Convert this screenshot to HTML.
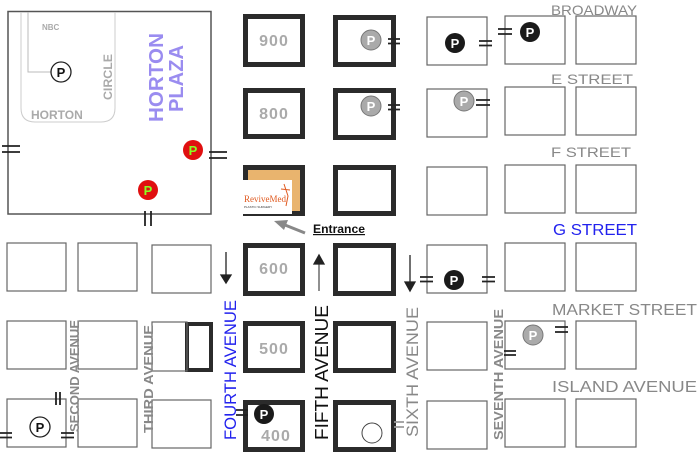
<!DOCTYPE html>
<html><head><meta charset="utf-8"><style>
html,body{margin:0;padding:0;background:#fff;width:700px;height:453px;overflow:hidden}
svg{display:block}
text{font-family:"Liberation Sans",sans-serif}
</style></head><body>
<svg width="700" height="453" viewBox="0 0 700 453" xmlns="http://www.w3.org/2000/svg">
<!-- Horton Plaza -->
<rect x="8" y="11.5" width="203" height="202.5" fill="none" stroke="#555" stroke-width="1.5"/>
<path d="M21 12 V108 Q21 122 35 122 H101 Q115 122 115 108 V12" fill="none" stroke="#ccc" stroke-width="1"/>
<path d="M28 12 V72 H52" fill="none" stroke="#bbb" stroke-width="1"/>
<text x="42" y="30" font-size="8" font-weight="bold" fill="#aaa">NBC</text>
<text x="31" y="119" font-size="12" font-weight="bold" fill="#aaa">HORTON</text>
<text transform="translate(112,100) rotate(-90)" font-size="12" font-weight="bold" fill="#aaa" textLength="46" lengthAdjust="spacingAndGlyphs">CIRCLE</text>
<text transform="translate(163,122) rotate(-90)" font-size="20" font-weight="bold" fill="#9a8cf0" textLength="89" lengthAdjust="spacingAndGlyphs">HORTON</text>
<text transform="translate(183,112) rotate(-90)" font-size="20" font-weight="bold" fill="#9a8cf0" textLength="67" lengthAdjust="spacingAndGlyphs">PLAZA</text>

<g fill="none" stroke="#2b2b2b" stroke-width="5">
<rect x="245.5" y="16.5" width="57" height="48"/>
<rect x="245.5" y="90.5" width="57" height="46"/>
<rect x="245.5" y="167.5" width="57" height="46"/>
<rect x="335.5" y="17.5" width="58" height="47"/>
<rect x="335.5" y="90.5" width="58" height="47"/>
<rect x="335.5" y="167.5" width="58" height="46"/>
<rect x="245.5" y="245.5" width="57" height="48"/>
<rect x="335.5" y="245.5" width="58" height="48"/>
<rect x="245.5" y="323.5" width="57" height="47"/>
<rect x="335.5" y="323.5" width="58" height="47"/>
<rect x="245.5" y="402.5" width="57" height="47"/>
<rect x="335.5" y="402.5" width="58" height="47"/>
<rect x="187" y="324" width="24" height="46" stroke-width="4"/>
</g>
<g font-size="16" font-weight="bold" fill="#aaa" text-anchor="middle" letter-spacing="1">
<text x="274" y="46">900</text><text x="274" y="119">800</text>
<text x="274" y="274">600</text><text x="274" y="354">500</text><text x="276" y="441">400</text>
</g>
<!-- ReviveMed logo -->
<rect x="248" y="170" width="52" height="41" fill="#e9b46e"/>
<rect x="243" y="180" width="49" height="34" fill="#fff"/>
<text x="244" y="202" font-size="9" style="font-family:'Liberation Serif',serif" fill="#e05a20">ReviveMed</text>
<text x="244" y="208" font-size="3" fill="#333">PLASTIC SURGERY</text>
<path d="M284 184 L288 196 L286 206 M281 189 L290 190" stroke="#e05a20" fill="none"/>
<!-- entrance -->
<path d="M305 233 L285 225" stroke="#888" stroke-width="3"/>
<path d="M274 221 L288 220 L284 230 Z" fill="#888"/>
<text x="313" y="233" font-size="12" font-weight="bold" fill="#111" textLength="52" lengthAdjust="spacingAndGlyphs" text-decoration="underline">Entrance</text>

<g fill="none" stroke="#666" stroke-width="1.2">
<rect x="7" y="243" width="59" height="48"/><rect x="78" y="243" width="59" height="48"/><rect x="152" y="245" width="59" height="48"/>
<rect x="7" y="321" width="59" height="48"/><rect x="78" y="321" width="59" height="48"/><rect x="152" y="322" width="35" height="49"/>
<rect x="7" y="399" width="59" height="48"/><rect x="78" y="399" width="59" height="48"/><rect x="152" y="400" width="59" height="48"/>
<rect x="427" y="17" width="60" height="48"/><rect x="505" y="16" width="60" height="48"/><rect x="576" y="16" width="60" height="48"/>
<rect x="427" y="89" width="60" height="48"/><rect x="505" y="87" width="60" height="48"/><rect x="576" y="87" width="60" height="48"/>
<rect x="427" y="167" width="60" height="48"/><rect x="505" y="165" width="60" height="48"/><rect x="576" y="165" width="60" height="48"/>
<rect x="427" y="245" width="60" height="48"/><rect x="505" y="243" width="60" height="48"/><rect x="576" y="243" width="60" height="48"/>
<rect x="427" y="322" width="60" height="48"/><rect x="505" y="321" width="60" height="48"/><rect x="576" y="321" width="60" height="48"/>
<rect x="427" y="401" width="60" height="48"/><rect x="505" y="399" width="60" height="48"/><rect x="576" y="399" width="60" height="48"/>
</g>

<g fill="#888" font-size="14">
<text x="551" y="15" textLength="86" lengthAdjust="spacingAndGlyphs">BROADWAY</text>
<text x="551" y="84" textLength="82" lengthAdjust="spacingAndGlyphs">E STREET</text>
<text x="551" y="157" textLength="80" lengthAdjust="spacingAndGlyphs">F STREET</text>
<text x="552" y="315" font-size="16" textLength="145" lengthAdjust="spacingAndGlyphs">MARKET STREET</text>
<text x="552" y="392" font-size="16" textLength="145" lengthAdjust="spacingAndGlyphs">ISLAND AVENUE</text>
</g>
<text x="553" y="235" font-size="16" fill="#2222ee" textLength="84" lengthAdjust="spacingAndGlyphs">G STREET</text>
<text transform="translate(236,440) rotate(-90)" font-size="17" fill="#2222ee" textLength="140" lengthAdjust="spacingAndGlyphs">FOURTH  AVENUE</text>
<text transform="translate(328,440) rotate(-90)" font-size="18" fill="#111" textLength="135" lengthAdjust="spacingAndGlyphs">FIFTH  AVENUE</text>
<text transform="translate(418,437) rotate(-90)" font-size="17" fill="#888" textLength="130" lengthAdjust="spacingAndGlyphs">SIXTH AVENUE</text>
<g font-weight="bold" fill="#888" font-size="13">
<text transform="translate(503,440) rotate(-90)" textLength="131" lengthAdjust="spacingAndGlyphs">SEVENTH AVENUE</text>
<text transform="translate(79,432) rotate(-90)" textLength="112" lengthAdjust="spacingAndGlyphs">SECOND AVENUE</text>
<text transform="translate(153,433) rotate(-90)" textLength="108" lengthAdjust="spacingAndGlyphs">THIRD AVENUE</text>
</g>

<g stroke="#222" stroke-width="1.3" fill="#222">
<line x1="226" y1="252" x2="226" y2="276"/><path d="M221 275 L231 275 L226 283 Z"/>
<line x1="319" y1="263" x2="319" y2="291" stroke="#555"/><path d="M314 264 L324 264 L319 255 Z"/>
<line x1="410" y1="255" x2="410" y2="283"/><path d="M405 282 L415 282 L410 291 Z"/>
</g>

<g stroke="#222" stroke-width="1.8">
<path d="M2 146 H20 M2 152 H20"/>
<path d="M209 152 H227 M209 158 H227"/>
<path d="M145 211 V226 M151 211 V226"/>
<path d="M388 39 H400 M388 43.5 H400"/>
<path d="M388 105 H400 M388 109.5 H400"/>
<path d="M479 41 H492 M479 45.5 H492"/>
<path d="M498 29 H512 M498 34 H512"/>
<path d="M476 100 H490 M476 105 H490"/>
<path d="M420 277 H433 M420 281.5 H433"/>
<path d="M482 277 H495 M482 281.5 H495"/>
<path d="M555 327 H568 M555 332 H568"/>
<path d="M504 351 H516 M504 355 H516"/>
<path d="M56 392 V405 M60 392 V405"/>
<path d="M0 433 H12 M0 437.5 H12"/>
<path d="M61 433 H74 M61 437.5 H74"/>
<path d="M236 410 H248 M236 415 H248"/>
<path d="M394 422 H404 M394 427 H404" stroke="#999"/>
</g>

<g font-size="13" font-weight="bold" text-anchor="middle">
<circle cx="61" cy="72" r="10" fill="#fff" stroke="#222" stroke-width="1.3"/><text x="61" y="77" fill="#111">P</text>
<circle cx="40" cy="427" r="10" fill="#fff" stroke="#222" stroke-width="1.3"/><text x="40" y="432" fill="#111">P</text>
<circle cx="455" cy="43" r="10" fill="#1a1a1a"/><text x="455" y="48" fill="#fff">P</text>
<circle cx="530" cy="32" r="10" fill="#1a1a1a"/><text x="530" y="37" fill="#fff">P</text>
<circle cx="454" cy="280" r="10" fill="#1a1a1a"/><text x="454" y="285" fill="#fff">P</text>
<circle cx="264" cy="414" r="10" fill="#1a1a1a"/><text x="264" y="419" fill="#fff">P</text>
<circle cx="371" cy="40" r="10" fill="#aaa" stroke="#777"/><text x="371" y="45" fill="#fff">P</text>
<circle cx="371" cy="106" r="10" fill="#aaa" stroke="#777"/><text x="371" y="111" fill="#fff">P</text>
<circle cx="464" cy="101" r="10" fill="#aaa" stroke="#777"/><text x="464" y="106" fill="#fff">P</text>
<circle cx="533" cy="335" r="10" fill="#aaa" stroke="#777"/><text x="533" y="340" fill="#fff">P</text>
<circle cx="193" cy="150" r="10" fill="#e01010"/><text x="193" y="155" fill="#8f2">P</text>
<circle cx="148" cy="190" r="10" fill="#e01010"/><text x="148" y="195" fill="#8f2">P</text>
<circle cx="372" cy="433" r="10" fill="#fff" stroke="#444"/>
</g>
</svg>
</body></html>
